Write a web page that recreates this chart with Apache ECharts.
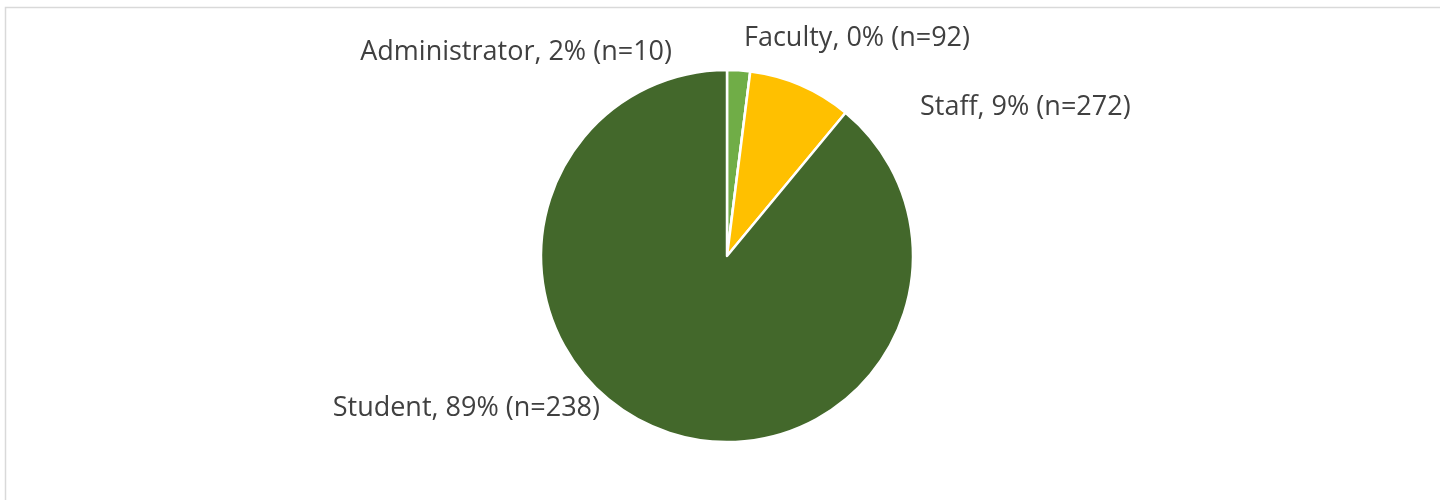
<!DOCTYPE html>
<html>
<head>
<meta charset="utf-8">
<script src="https://cdn.jsdelivr.net/npm/echarts@6/dist/echarts.min.js"></script>
<style>
  html, body { margin: 0; padding: 0; background: #fff; }
  #chart { width: 1440px; height: 500px; }
</style>
</head>
<body>
<div id="chart"></div>
<script>
var groups = ['Administrator', 'Faculty', 'Staff', 'Student'];
var percents = [2, 0, 9, 89];
var counts = [10, 92, 272, 238];
var colors = ['#70ad47', '#4472c4', '#ffc000', '#43682b'];

// where each label sits (Excel moved them around the pie)
var labelSpots = {
  Administrator: { x: 672, y: 52, align: 'right' },
  Faculty: { x: 744, y: 38, align: 'left' },
  Staff: { x: 920, y: 107, align: 'left' },
  Student: { x: 600, y: 408, align: 'right' }
};

var myChart = echarts.init(document.getElementById('chart'));

var option = {
  backgroundColor: '#fff',
  animation: false,
  graphic: [{
    type: 'rect',
    shape: { x: 5.5, y: 7.5, width: 1500, height: 600 },
    style: { fill: 'none', stroke: '#d9d9d9', lineWidth: 1.5 },
    silent: true
  }],
  series: [{
    type: 'pie',
    center: [727, 256],
    radius: 186,
    startAngle: 90,
    clockwise: true,
    avoidLabelOverlap: false,
    itemStyle: { borderColor: '#fff', borderWidth: 2.5 },
    label: {
      show: true,
      position: 'outside',
      color: '#404040',
      fontFamily: 'Open Sans',
      fontSize: 27,
      formatter: function (p) {
        return p.name + ', ' + p.value + '% (n=' + counts[p.dataIndex] + ')';
      }
    },
    labelLine: { show: false },
    labelLayout: function (p) {
      var s = labelSpots[groups[p.dataIndex]];
      return { x: s.x, y: s.y, align: s.align, verticalAlign: 'middle' };
    },
    data: groups.map(function (g, i) {
      return { name: g, value: percents[i], itemStyle: { color: colors[i] } };
    })
  }]
};

myChart.setOption(option);
</script>
</body>
</html>
